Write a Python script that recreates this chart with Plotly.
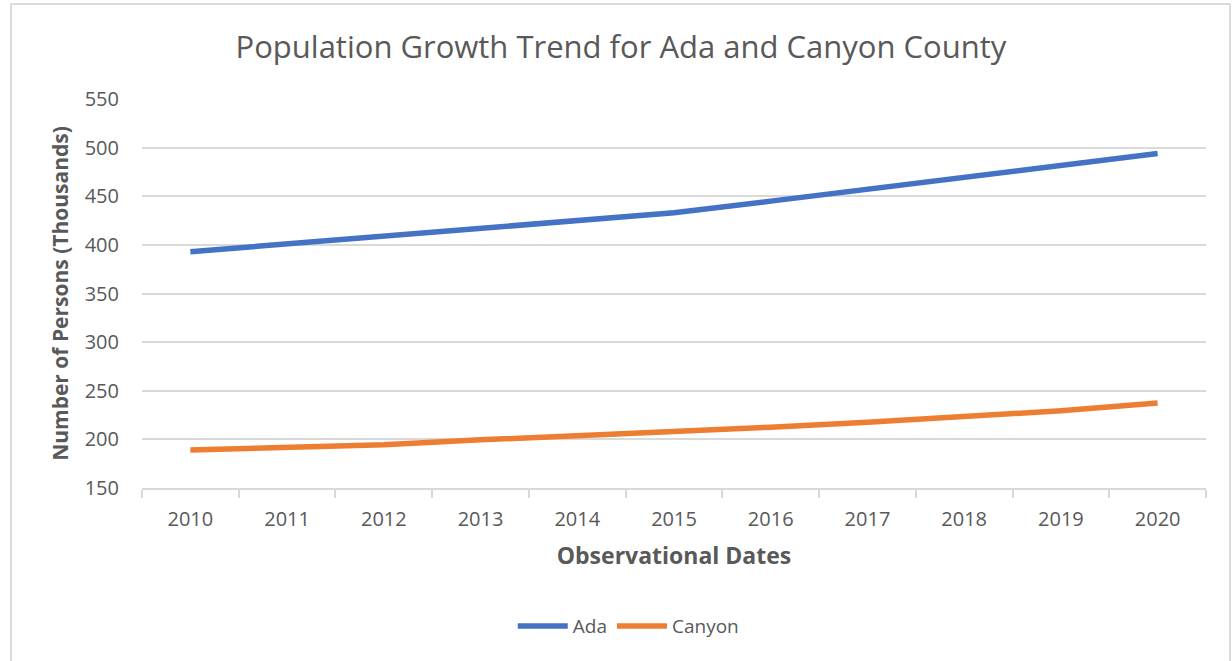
import plotly.graph_objects as go

# Population (thousands)
years = ["2010", "2011", "2012", "2013", "2014", "2015", "2016", "2017", "2018", "2019", "2020"]
ada = [393, 401, 409, 416, 425, 433, 445, 457, 469, 481, 494]
canyon = [189, 191.5, 194.5, 199.5, 203.5, 207.5, 212.5, 217.5, 223.5, 229.5, 237.5]
y_ticks = [150, 200, 250, 300, 350, 400, 450, 500, 550]

GREY = "#595959"
GRID = "#d9d9d9"
FONT = "Open Sans"

fig = go.Figure()
fig.add_trace(go.Scatter(
    x=years, y=ada, name="Ada", mode="lines",
    line=dict(color="#4472C4", width=5.5),
))
fig.add_trace(go.Scatter(
    x=years, y=canyon, name="Canyon", mode="lines",
    line=dict(color="#ED7D31", width=5.5),
))

# outer chart frame
fig.add_shape(
    type="rect", xref="paper", yref="paper",
    x0=-0.1231, x1=1.0226, y0=-0.47, y1=1.244,
    line=dict(color="#d0d0d0", width=1.5), layer="below",
)

fig.update_layout(
    title=dict(
        text="Population Growth Trend for Ada and Canyon County",
        font=dict(family=FONT, size=31, color=GREY),
        x=0.504, xanchor="center", y=0.928, yanchor="middle",
    ),
    plot_bgcolor="white",
    paper_bgcolor="white",
    font=dict(family=FONT, color=GREY),
    width=1232, height=661,
    margin=dict(l=142, r=26, t=99, b=173),
    showlegend=True,
    legend=dict(
        orientation="h", x=0.457, xanchor="center", y=-0.355, yanchor="middle",
        font=dict(size=19, color=GREY), itemwidth=50,
    ),
    xaxis=dict(
        type="category", range=[-0.5, 10.5], tickson="boundaries",
        ticks="outside", ticklen=8, tickcolor=GRID, tickwidth=1.5,
        showline=True, linecolor=GRID, linewidth=1.5,
        showgrid=False, tickfont=dict(size=20, color=GREY),
        ticklabelstandoff=12, automargin=False,
        title=dict(text="<b>Observational Dates</b>", font=dict(size=23, color=GREY), standoff=17),
    ),
    yaxis=dict(
        range=[150, 550], tickvals=y_ticks, ticks="",
        showgrid=True, gridcolor=GRID, gridwidth=1.5,
        showline=False, zeroline=False, ticklabelstandoff=22, automargin=False,
        tickfont=dict(size=20, color=GREY),
        title=dict(text="<b>Number of Persons (Thousands)</b>", font=dict(size=21, color=GREY), standoff=10),
    ),
)

fig.write_html("out.html", config={"displayModeBar": False},
               post_script="document.body.style.margin='0';")
